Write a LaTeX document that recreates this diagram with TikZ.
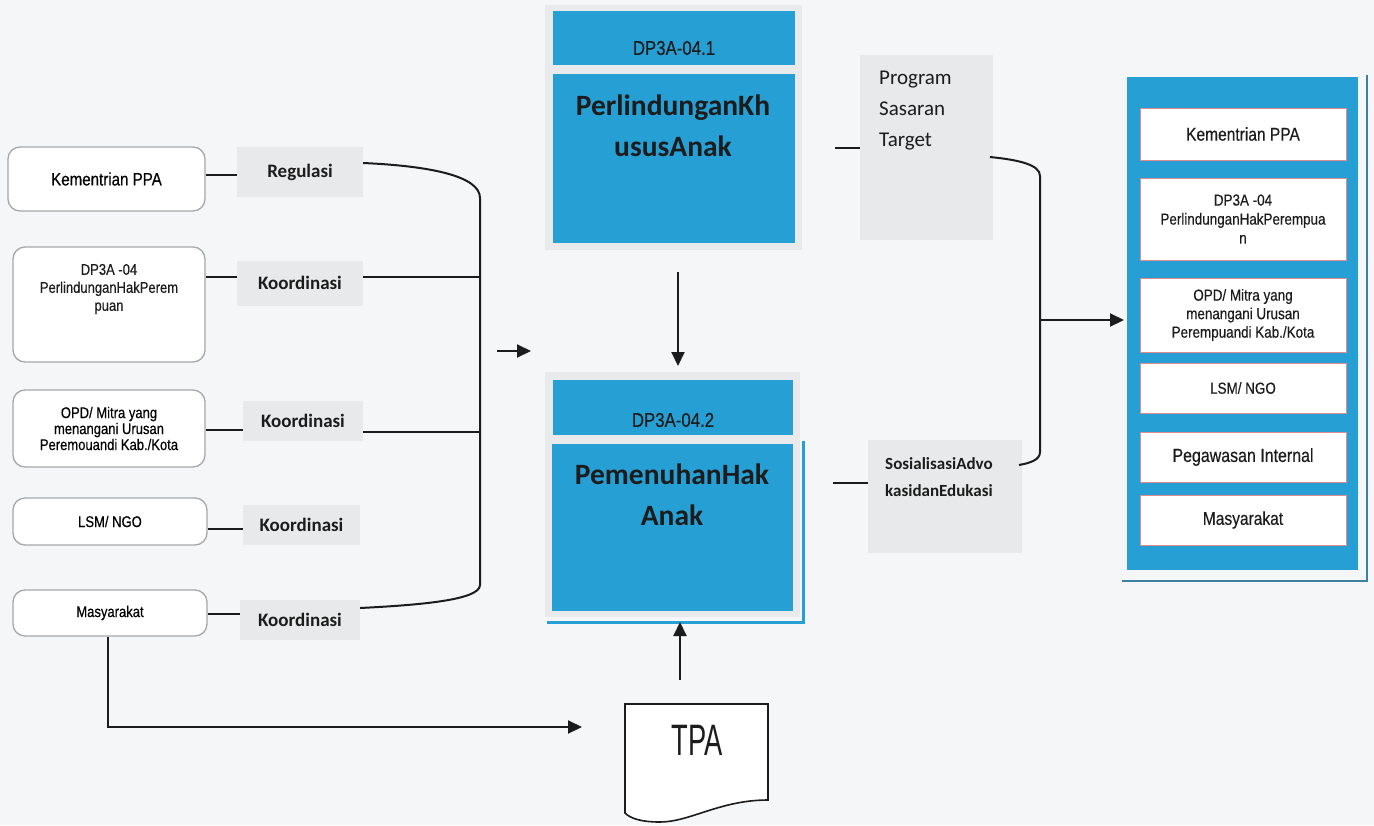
\documentclass[tikz,border=0pt]{standalone}
\usepackage{fontspec}
\setmainfont{Carlito}
\newfontfamily\nar[FakeStretch=0.84,FakeBold=0.4]{Liberation Sans}
\newfontfamily\tall[FakeStretch=0.62]{Liberation Sans}
\usetikzlibrary{arrows.meta}
\definecolor{paper}{RGB}{245,246,247}
\definecolor{sky}{RGB}{38,160,212}
\definecolor{halo}{RGB}{232,234,236}
\definecolor{tagfill}{RGB}{232,233,234}
\definecolor{edge}{RGB}{165,167,169}
\definecolor{rim}{RGB}{222,140,140}
\definecolor{panelrim}{RGB}{62,128,160}
\definecolor{ink}{RGB}{28,28,28}
\tikzset{
  lbox/.style={draw=edge, line width=1.3pt, rounded corners=12pt, fill=white,
    align=center, inner sep=0pt},
  tagbox/.style={fill=tagfill, inner sep=0pt, text=ink,
    font=\bfseries\fontsize{19}{23}\selectfont},
  blk/.style={fill=sky, inner sep=0pt},
  hdtext/.style={inner sep=0pt, text=ink, font=\nar\fontsize{20}{24}\selectfont},
  bigtext/.style={inner sep=0pt, text=ink, align=center,
    font=\bfseries\fontsize{29.5}{41}\selectfont},
  rbox/.style={draw=rim, line width=1pt, fill=white, minimum width=206pt,
    inner sep=0pt, align=center, text=ink},
  wire/.style={draw=ink, line width=2pt},
  arr/.style={wire, -{Triangle[length=14pt,width=13pt]}}
}
\begin{document}
\begin{tikzpicture}[x=1pt,y=-1pt]
\fill[paper] (0,0) rectangle (1374,825);
\useasboundingbox (0,0) rectangle (1374,825);

% ---- sources on the left
\node[lbox, minimum width=197pt, minimum height=64pt,
      font=\nar\fontsize{18}{21}\selectfont] (kem) at (106.5,179) {Kementrian PPA};
\node[lbox, minimum width=192pt, minimum height=115pt] (dp) at (109,304.5) {};
\node[inner sep=0pt, align=center, text=ink, font=\nar\fontsize{15.5}{18}\selectfont]
      (dpt) at (109,289) {DP3A -04\\PerlindunganHakPerem\\puan};
\node[lbox, minimum width=192pt, minimum height=77pt,
      font=\nar\fontsize{15.5}{16}\selectfont] (opd) at (109,428.5)
      {OPD/ Mitra yang\\menangani Urusan\\Peremouandi Kab./Kota};
\node[lbox, minimum width=194pt, minimum height=47pt,
      font=\nar\fontsize{15.5}{18}\selectfont] (lsm) at (110,521.5) {LSM/ NGO};
\node[lbox, minimum width=194pt, minimum height=46pt,
      font=\nar\fontsize{15.5}{18}\selectfont] (mas) at (110,613) {Masyarakat};

% ---- relation labels
\node[tagbox, minimum width=126pt, minimum height=50pt] (reg) at (300,172) {Regulasi};
\node[tagbox, minimum width=126pt, minimum height=45pt] (k1) at (300,283) {Koordinasi};
\node[tagbox, minimum width=120pt, minimum height=40pt] (k2) at (303,421) {Koordinasi};
\node[tagbox, minimum width=117pt, minimum height=40pt] (k3) at (301.5,525) {Koordinasi};
\node[tagbox, minimum width=120pt, minimum height=40pt] (k4) at (300,620) {Koordinasi};

\draw[wire] (kem.east |- 0,175) -- (reg.west |- 0,175);
\draw[wire] (dp.east |- 0,277) -- (k1.west |- 0,277);
\draw[wire] (opd.east |- 0,430) -- (k2.west |- 0,430);
\draw[wire] (lsm.east |- 0,529) -- (k3.west |- 0,529);
\draw[wire] (mas.east |- 0,614) -- (k4.west |- 0,614);

% ---- left collecting bracket
\coordinate (busTop) at (480,198);
\coordinate (busBot) at (480,585);
\draw[wire] (reg.east |- 0,163) .. controls (430,166) and (480,176) .. (busTop)
  -- (busBot) .. controls (480,600) and (420,605) .. (k4.east |- 0,608);
\draw[wire] (k1.east |- 0,277) -- (busTop |- 0,277);
\draw[wire] (k2.east |- 0,432) -- (busTop |- 0,432);
\coordinate (inA) at (497,351);
\coordinate (inB) at (531,351);
\draw[arr] (inA) -- (inB);

% ---- programme blocks
\fill[halo] (545,5) rectangle (802,250);
\node[blk, minimum width=242pt, minimum height=54pt] (h1) at (674,38) {};
\node[hdtext] (h1t) at (674,48) {DP3A-04.1};
\node[blk, minimum width=242pt, minimum height=169pt] (b1) at (674,158.5) {};
\node[bigtext] (b1t) at (673,126) {PerlindunganKh\\ususAnak};

\fill[halo] (545,372) rectangle (800,617);
\node[blk, minimum width=240pt, minimum height=55pt] (h2) at (673,407.5) {};
\node[hdtext] (h2t) at (673,420) {DP3A-04.2};
\node[blk, minimum width=241pt, minimum height=167pt] (b2) at (672.5,527.5) {};
\node[bigtext] (b2t) at (672,495) {PemenuhanHak\\Anak};
\draw[sky, line width=3pt] (803,441) -- (803,622) -- (547,622);

\coordinate (dnA) at (678,272);
\coordinate (dnB) at (678,366);
\draw[arr] (dnA) -- (dnB);

% ---- TPA document
\draw[ink, line width=1.6pt, fill=white] (625,704) -- (768,704) -- (768,800)
  .. controls (720,800) and (690,822) .. (660,822)
  .. controls (640,822) and (630,818) .. (625,813) -- cycle;
\node[inner sep=0pt, text=ink, font=\tall\fontsize{44}{48}\selectfont] (tpa) at (697,740) {TPA};
\coordinate (upA) at (680,680);
\coordinate (upB) at (680,622);
\draw[arr] (upA) -- (upB);
\coordinate (tpaIn) at (582,727);
\draw[arr] (mas.south -| 108,0) |- (tpaIn);

% ---- outputs of the programmes
\node[fill=tagfill, inner sep=0pt, minimum width=133pt, minimum height=185pt] (prog) at (926.5,147.5) {};
\node[inner sep=0pt, anchor=north west, align=left, text=ink,
      font=\fontsize{21}{31}\selectfont] (progt) at (879,71) {Program\\Sasaran\\Target};
\draw[wire] (835,148) -- (prog.west |- 0,148);

\node[fill=tagfill, inner sep=0pt, minimum width=154pt, minimum height=113pt] (sos) at (945,496.5) {};
\node[inner sep=0pt, anchor=north west, align=left, text=ink,
      font=\bfseries\fontsize{17}{27}\selectfont] (sost) at (885,457) {SosialisasiAdvo\\kasidanEdukasi};
\draw[wire] (833,483) -- (sos.west |- 0,483);

% ---- right collecting bracket
\coordinate (rTop) at (1040,176);
\coordinate (rBot) at (1040,452);
\draw[wire] (990,157) .. controls (1020,160) and (1040,165) .. (rTop)
  -- (rBot) .. controls (1040,460) and (1030,463) .. (1019,465);
\coordinate (outB) at (1124,320);
\draw[arr] (rTop |- 0,320) -- (outB);

% ---- stakeholders panel
\fill[sky] (1127,77) rectangle (1358,570);
\draw[panelrim, line width=2.5pt] (1367,75) -- (1367,581) -- (1122,581);
\node[rbox, minimum height=52pt, font=\nar\fontsize{18.5}{21}\selectfont] (r1) at (1243,134) {Kementrian PPA};
\node[rbox, minimum height=82pt, font=\nar\fontsize{16}{19}\selectfont] (r2) at (1243,219)
  {DP3A -04\\PerlindunganHakPerempua\\n};
\node[rbox, minimum height=74pt, font=\nar\fontsize{16}{18.5}\selectfont] (r3) at (1243,315)
  {OPD/ Mitra yang\\menangani Urusan\\Perempuandi Kab./Kota};
\node[rbox, minimum height=50pt, font=\nar\fontsize{16}{19}\selectfont] (r4) at (1243,388) {LSM/ NGO};
\node[rbox, minimum height=50pt, font=\nar\fontsize{19}{22}\selectfont] (r5) at (1243,457) {Pegawasan Internal};
\node[rbox, minimum height=50pt, font=\nar\fontsize{18.5}{22}\selectfont] (r6) at (1243,520) {Masyarakat};
\end{tikzpicture}
\end{document}
